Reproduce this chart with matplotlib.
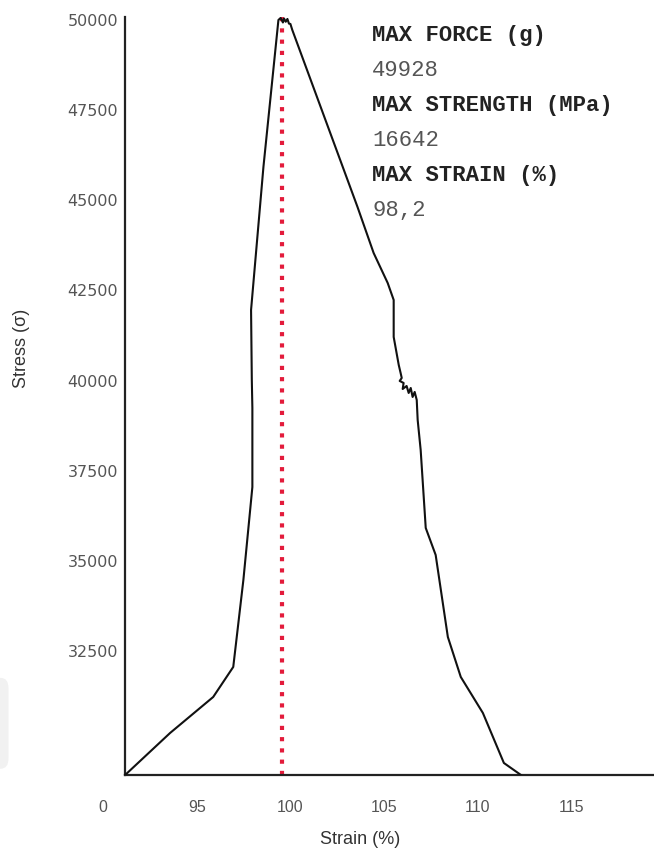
import numpy as np
import matplotlib
matplotlib.use('Agg')
import matplotlib.pyplot as plt
from matplotlib.patches import FancyBboxPatch

# ── Stress / strain curve ──────────────────────────────────
strain = [91.18, 93.58, 95.88, 96.95, 97.49, 97.97, 97.97, 97.94, 97.90, 98.56,
          99.36, 99.48, 99.60, 99.66, 99.75, 99.84, 99.92, 100.00, 100.10, 103.58,
          104.44, 105.19, 105.51, 105.51, 105.78, 105.88, 105.94, 105.83, 106.04,
          105.99, 106.20, 106.31, 106.42, 106.52, 106.63, 106.74, 106.79, 106.95,
          107.22, 107.75, 108.40, 109.09, 110.27, 111.39, 112.30]
stress = [29064, 30229, 31227, 32060, 34471, 37050, 39240, 40017, 41958, 45924,
          50000, 50055, 49930, 50040, 49950, 50028, 49900, 49889, 49723, 44814,
          43539, 42707, 42236, 41210, 40433, 40211, 40073, 39990, 39934,
          39767, 39850, 39657, 39795, 39546, 39685, 39463, 38908, 38076,
          35914, 35165, 32891, 31782, 30783, 29397, 29064]

max_strain_line = 99.57
y_ticks = [32500, 35000, 37500, 40000, 42500, 45000, 47500, 50000]
x_ticks = [90, 95, 100, 105, 110, 115]
x_labels = ['0', '95', '100', '105', '110', '115']

stats = [('MAX FORCE (g)', '49928'),
         ('MAX STRENGTH (MPa)', '16642'),
         ('MAX STRAIN (%)', '98,2')]

fig = plt.figure(figsize=(6.54, 8.57), dpi=100)

# faint grey tab at the left edge (screenshot artefact)
fig.patches.append(FancyBboxPatch((-0.03, 0.103), 0.043, 0.106,
                                  boxstyle='round,pad=0,rounding_size=0.012',
                                  transform=fig.transFigure, facecolor='#f1f1f1',
                                  edgecolor='none', zorder=0))

ax = fig.add_axes([0.1575, 0.0957, 0.8425, 0.8845])
ax.patch.set_alpha(0)

ax.plot(strain, stress, color='#111111', lw=1.5, zorder=3)
ax.axvline(max_strain_line, color='#e31b3b', lw=3.0, ls=(0, (1, 1.7)), zorder=2)

ax.set_xlim(90, 119.4)
ax.set_ylim(29064, 50083)
ax.set_xticks(x_ticks, x_labels)
ax.set_yticks(y_ticks)
ax.tick_params(length=0, labelsize=11.5, labelcolor='#555555')
ax.tick_params(axis='x', pad=18)
ax.tick_params(axis='y', pad=5)
for lab in ax.get_xticklabels() + ax.get_yticklabels():
    lab.set_family('Liberation Sans')

for side in ['top', 'right']:
    ax.spines[side].set_visible(False)
for side in ['left', 'bottom']:
    ax.spines[side].set_color('#222222')
    ax.spines[side].set_linewidth(1.6)
ax.spines['left'].set_position(('data', 91.18))
ax.spines['bottom'].set_bounds(91.18, 119.4)

ax.set_xlabel('Strain (%)', family='Liberation Sans', fontsize=13, color='#333333')
ax.set_ylabel('Stress (σ)', family=['Liberation Sans', 'DejaVu Sans'],
              fontsize=13, color='#333333')
ax.xaxis.set_label_coords(0.466, -0.074)
ax.yaxis.set_label_coords(-0.133, 0.563)

# ── Stats block ───────────────────────────────────────────
y0 = 0.958
dy = 0.0408
for i, (title, val) in enumerate(stats):
    fig.text(0.569, y0 - 2 * i * dy, title, family='Liberation Mono',
             fontsize=16, fontweight='bold', color='#222222', va='center')
    fig.text(0.569, y0 - (2 * i + 1) * dy, val, family='Liberation Mono',
             fontsize=16, color='#555555', va='center')

fig.savefig('out.png', dpi=100)
